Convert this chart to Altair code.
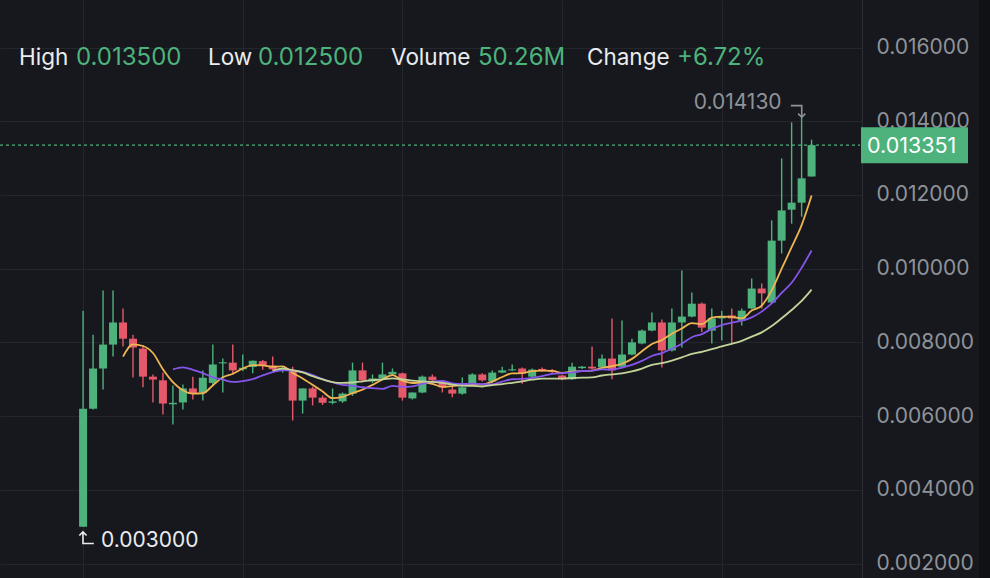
import altair as alt
import pandas as pd

# ---------------- data ----------------
opens = [0.00300, 0.00620, 0.00729, 0.00794, 0.00854, 0.00810, 0.00783, 0.00707, 0.00697, 0.00632,
         0.00637, 0.00675, 0.00664, 0.00690, 0.00743, 0.00745, 0.00727, 0.00733, 0.00749, 0.00737,
         0.00726, 0.00720, 0.00642, 0.00675, 0.00650, 0.00636, 0.00640, 0.00661, 0.00724, 0.00694,
         0.00702, 0.00713, 0.00716, 0.00648, 0.00664, 0.00707, 0.00691, 0.00672, 0.00661, 0.00688,
         0.00713, 0.00694, 0.00718, 0.00724, 0.00729, 0.00707, 0.00728, 0.00724, 0.00710, 0.00700,
         0.00730, 0.00734, 0.00732, 0.00756, 0.00734, 0.00767, 0.00797, 0.00832, 0.00854, 0.00778,
         0.00854, 0.00870, 0.00905, 0.00832, 0.00865, 0.00873, 0.00859, 0.00892, 0.00946, 0.00908,
         0.01076, 0.01160, 0.01179, 0.01250]
highs = [0.00886, 0.00821, 0.00941, 0.00941, 0.00892, 0.00821, 0.00792, 0.00713, 0.00718, 0.00683,
         0.00686, 0.00707, 0.00724, 0.00794, 0.00756, 0.00794, 0.00767, 0.00751, 0.00752, 0.00762,
         0.00735, 0.00734, 0.00675, 0.00680, 0.00656, 0.00675, 0.00664, 0.00745, 0.00745, 0.00713,
         0.00745, 0.00729, 0.00718, 0.00664, 0.00710, 0.00713, 0.00697, 0.00680, 0.00705, 0.00716,
         0.00716, 0.00724, 0.00734, 0.00740, 0.00732, 0.00729, 0.00732, 0.00728, 0.00713, 0.00745,
         0.00736, 0.00789, 0.00767, 0.00865, 0.00859, 0.00810, 0.00835, 0.00881, 0.00862, 0.00892,
         0.00995, 0.00935, 0.00908, 0.00892, 0.00886, 0.00892, 0.00892, 0.00973, 0.00960, 0.01131,
         0.01299, 0.01397, 0.01413, 0.01350]
lows = [0.00300, 0.00618, 0.00672, 0.00762, 0.00789, 0.00705, 0.00678, 0.00637, 0.00604, 0.00577,
        0.00618, 0.00645, 0.00642, 0.00680, 0.00664, 0.00712, 0.00722, 0.00716, 0.00726, 0.00724,
        0.00718, 0.00588, 0.00607, 0.00629, 0.00630, 0.00632, 0.00636, 0.00655, 0.00692, 0.00690,
        0.00700, 0.00710, 0.00642, 0.00645, 0.00662, 0.00694, 0.00664, 0.00651, 0.00658, 0.00685,
        0.00694, 0.00690, 0.00716, 0.00722, 0.00688, 0.00705, 0.00720, 0.00716, 0.00697, 0.00698,
        0.00728, 0.00727, 0.00730, 0.00700, 0.00730, 0.00765, 0.00795, 0.00830, 0.00732, 0.00775,
        0.00786, 0.00868, 0.00828, 0.00797, 0.00805, 0.00797, 0.00846, 0.00890, 0.00892, 0.00905,
        0.01041, 0.01122, 0.01141, 0.01250]
closes = [0.00620, 0.00729, 0.00794, 0.00854, 0.00810, 0.00786, 0.00707, 0.00699, 0.00634, 0.00636,
          0.00675, 0.00661, 0.00704, 0.00740, 0.00746, 0.00724, 0.00731, 0.00750, 0.00737, 0.00727,
          0.00730, 0.00642, 0.00675, 0.00650, 0.00636, 0.00640, 0.00661, 0.00724, 0.00697, 0.00702,
          0.00713, 0.00720, 0.00650, 0.00664, 0.00707, 0.00697, 0.00678, 0.00661, 0.00678, 0.00713,
          0.00697, 0.00718, 0.00724, 0.00727, 0.00716, 0.00726, 0.00724, 0.00720, 0.00700, 0.00734,
          0.00734, 0.00729, 0.00756, 0.00724, 0.00767, 0.00800, 0.00832, 0.00854, 0.00778, 0.00854,
          0.00870, 0.00905, 0.00840, 0.00865, 0.00870, 0.00865, 0.00886, 0.00946, 0.00933, 0.01076,
          0.01158, 0.01179, 0.01245, 0.013351]
idx = list(range(1, len(closes) + 1))

y_ticks = [0.002, 0.004, 0.006, 0.008, 0.010, 0.012, 0.014, 0.016]
x_grid = [1, 17, 33, 49, 65]

header_labels = ["High", "Low", "Volume", "Change"]
header_values = ["0.013500", "0.012500", "50.26M", "+6.72%"]
header_label_x = [19, 208, 391, 587]
header_value_x = [76, 258, 478, 677]

ma_periods = [5, 10, 20]
ma_colors = ["#efb553", "#8656ec", "#c3d49a"]

# ---------------- styling ----------------
UP = "#4db27c"
DOWN = "#e5596a"
BG = "#16181d"
GRID = "#23262c"
AXIS_TXT = "#8e9299"
WHITE = "#eaecef"
FONT = "Inter"

ARROW_DOWN = "M-1,-0.8L0.5,-0.8L0.5,0.8M0,0.3L0.5,0.8L1,0.3"
ARROW_UP = "M1,0.8L-0.5,0.8L-0.5,-0.8M0,-0.3L-0.5,-0.8L-1,-0.3"

df = pd.DataFrame({"i": idx, "open": opens, "high": highs, "low": lows, "close": closes})

xs = alt.Scale(domain=[-6.825, 78.55], nice=False, zero=False)
ys = alt.Scale(domain=[0.001607, 0.017289], nice=False, zero=False)
ax_x = alt.Axis(values=x_grid, grid=True, gridColor=GRID, labels=False, ticks=False,
                domain=False, title=None)
ax_y = alt.Axis(orient="right", values=y_ticks, format=".6f", grid=True, gridColor=GRID,
                labelFont=FONT, labelFontSize=21, labelColor=AXIS_TXT, ticks=False, tickSize=0,
                labelPadding=14, labelOverlap=False, domain=True, domainColor="#2a2e35",
                title=None)

base = alt.Chart(df).transform_calculate(
    dir="datum.close >= datum.open ? 'up' : 'down'",
    top="max(datum.open, datum.close)",
    bot="min(datum.open, datum.close)",
)
color = alt.Color("dir:N", scale=alt.Scale(domain=["up", "down"], range=[UP, DOWN]), legend=None)

wicks = base.mark_rule(strokeWidth=1.4).encode(
    x=alt.X("i:Q", scale=xs, axis=ax_x),
    y=alt.Y("low:Q", scale=ys, axis=ax_y),
    y2="high:Q",
    color=color,
)
bodies = base.mark_bar(size=8).encode(
    x=alt.X("i:Q", scale=xs, axis=ax_x),
    y=alt.Y("bot:Q", scale=ys, axis=ax_y),
    y2="top:Q",
    color=color,
)

ma_layers = []
for n, c in zip(ma_periods, ma_colors):
    ma_layers.append(
        alt.Chart(df)
        .transform_window(ma="mean(close)", cnt="count()", frame=[-(n - 1), 0],
                          sort=[alt.SortField("i")])
        .transform_filter(f"datum.cnt >= {n}")
        .mark_line(color=c, strokeWidth=1.8, interpolate="monotone")
        .encode(x=alt.X("i:Q", scale=xs, axis=ax_x), y=alt.Y("ma:Q", scale=ys, axis=ax_y))
    )

last_close = closes[-1]
last = pd.DataFrame({"v": [last_close], "t": [f"{last_close:.6f}"]})
price_line = alt.Chart(last).mark_rule(color=UP, strokeDash=[3, 3], strokeWidth=1.2).encode(
    y=alt.Y("v:Q", scale=ys, axis=ax_y), x=alt.value(0), x2=alt.value(860))
badge = alt.Chart(last).mark_rule(color=UP, strokeWidth=36, strokeCap="butt").encode(
    y=alt.Y("v:Q", scale=ys, axis=ax_y), x=alt.value(861), x2=alt.value(968))
badge_text = alt.Chart(last).mark_text(align="left", baseline="middle", font=FONT,
                                       fontSize=21.5, color="#ffffff", dy=2).encode(
    y=alt.Y("v:Q", scale=ys, axis=ax_y), x=alt.value(867), text="t:N")

imax = int(df["high"].idxmax())
imin = int(df["low"].idxmin())
hi = pd.DataFrame({"i": [idx[imax]], "v": [highs[imax]], "t": [f"{highs[imax]:.6f}"]})
lo = pd.DataFrame({"i": [idx[imin]], "v": [lows[imin]], "t": [f"{lows[imin]:.6f}"]})

hi_text = alt.Chart(hi).mark_text(align="right", baseline="middle", font=FONT, fontSize=21,
                                  color=AXIS_TXT, dx=-20, dy=-13).encode(
    x=alt.X("i:Q", scale=xs, axis=ax_x), y=alt.Y("v:Q", scale=ys, axis=ax_y), text="t:N")
hi_arrow = alt.Chart(hi).mark_point(shape=ARROW_DOWN, size=210, filled=False, color=AXIS_TXT,
                                    strokeWidth=1.6, opacity=1, xOffset=-3.5, yOffset=-5).encode(
    x=alt.X("i:Q", scale=xs, axis=ax_x), y=alt.Y("v:Q", scale=ys, axis=ax_y))
lo_text = alt.Chart(lo).mark_text(align="left", baseline="middle", font=FONT, fontSize=21,
                                  color=WHITE, dx=18, dy=14).encode(
    x=alt.X("i:Q", scale=xs, axis=ax_x), y=alt.Y("v:Q", scale=ys, axis=ax_y), text="t:N")
lo_arrow = alt.Chart(lo).mark_point(shape=ARROW_UP, size=210, filled=False, color=WHITE,
                                    strokeWidth=1.6, opacity=1, xOffset=3.5, yOffset=11).encode(
    x=alt.X("i:Q", scale=xs, axis=ax_x), y=alt.Y("v:Q", scale=ys, axis=ax_y))

hdr_layers = []
for k in range(len(header_labels)):
    row = pd.DataFrame({"lab": [header_labels[k]], "val": [header_values[k]]})
    hdr_layers.append(alt.Chart(row).mark_text(align="left", baseline="alphabetic", font=FONT,
                                               fontSize=22.5, color=WHITE).encode(
        x=alt.value(header_label_x[k]), y=alt.value(65), text="lab:N"))
    hdr_layers.append(alt.Chart(row).mark_text(align="left", baseline="alphabetic", font=FONT,
                                               fontSize=24, color=UP).encode(
        x=alt.value(header_value_x[k]), y=alt.value(65), text="val:N"))

strip = alt.Chart(last).mark_rect(color="#0f1114").encode(
    x=alt.value(979), x2=alt.value(1000), y=alt.value(0), y2=alt.value(578))

chart = alt.layer(
    wicks, bodies, *ma_layers, price_line, badge, badge_text,
    hi_text, hi_arrow, lo_text, lo_arrow, *hdr_layers, strip
).properties(
    width=862, height=578,
    autosize=alt.AutoSizeParams(type="none"),
    padding={"left": 0, "right": 128, "top": 0, "bottom": 0},
    background=BG,
).configure_view(stroke=None)

chart.save("out.html", embed_options={"renderer": "svg", "actions": False})
